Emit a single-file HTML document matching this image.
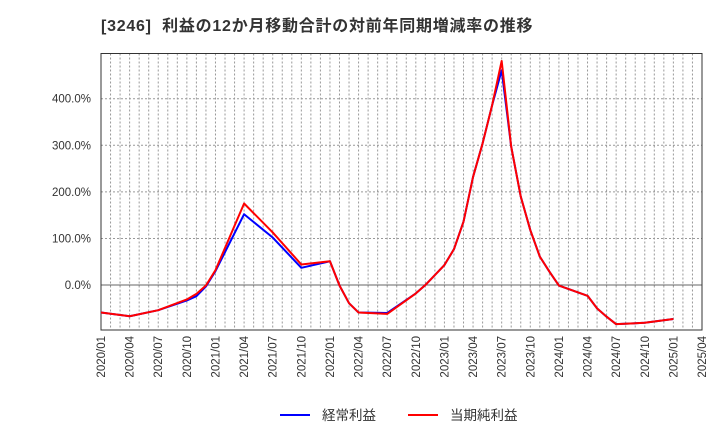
<!DOCTYPE html>
<html><head><meta charset="utf-8"><style>
body{margin:0;background:#fff;}
svg text{font-family:"Liberation Sans","Noto Sans CJK JP",sans-serif;fill:#333;}
</style></head><body>
<svg id="chart" width="720" height="440" xmlns="http://www.w3.org/2000/svg">
<text x="101" y="31" font-size="16" font-weight="bold" letter-spacing="0.75" xml:space="preserve">[3246]  利益の12か月移動合計の対前年同期増減率の推移</text>
<g id="grid"></g><g id="axes"></g><g id="series"></g>
<g>
<line x1="280" y1="415" x2="310" y2="415" stroke="#0000ff" stroke-width="2"/>
<text x="322" y="420" font-size="13.5">経常利益</text>
<line x1="408" y1="415" x2="438" y2="415" stroke="#ff0000" stroke-width="2"/>
<text x="450" y="420" font-size="13.5">当期純利益</text>
</g>
</svg>
<script>
// month index from 2020/01
const months = [0,3,6,9,10,11,12,15,18,21,24,25,26,27,30,33,34,36,37,38,39,40,41,42,43,44,45,46,47,48,51,52,53,54,57,60];
const keijo =  [-59,-67,-54,-33,-24,-3,30,152,102,37,51,-1,-39,-59,-60,-18,0,43,77,136,232,304,386,461,297,190,118,61,29,-1,-23,-50,-68,-84,-81,-73];
const junri =  [-59,-67,-54,-31,-19,-1,32,175,113,44,51,-1,-39,-59,-62,-18,0,43,77,136,232,304,386,481,297,190,118,61,29,-1,-23,-50,-68,-84,-81,-73];
const yTicks = [0,100,200,300,400];
const xTickLabels = ["2020/01","2020/04","2020/07","2020/10","2021/01","2021/04","2021/07","2021/10","2022/01","2022/04","2022/07","2022/10","2023/01","2023/04","2023/07","2023/10","2024/01","2024/04","2024/07","2024/10","2025/01","2025/04"];

const L=101,R=702,T=53.5,B=330, MMAX=63, YMIN=-96.5, YMAX=497;
const x=m=>L+(R-L)*m/MMAX;
const y=v=>B-(B-T)*(v-YMIN)/(YMAX-YMIN);
const NS="http://www.w3.org/2000/svg";
function mk(tag,attrs,parent){const e=document.createElementNS(NS,tag);for(const k in attrs)e.setAttribute(k,attrs[k]);parent.appendChild(e);return e;}
const grid=document.getElementById('grid'),axes=document.getElementById('axes'),ser=document.getElementById('series');
for(let m=1;m<MMAX;m++){
  const g=mk('line',{x1:x(m),x2:x(m),y1:T,y2:B,stroke:'#999','stroke-dasharray':'2,2','stroke-width':1},grid);
  
  
}
yTicks.forEach(v=>{
  const g=mk('line',{x1:L,x2:R,y1:y(v),y2:y(v),stroke:v===0?'#666':'#999','stroke-dasharray':v===0?'':'2,2','stroke-width':1},grid);
  
  
  const t=mk('text',{x:91,y:y(v)+4,'text-anchor':'end','font-size':11.5},axes);
  t.textContent=v.toFixed(1)+'%';
  
  
});
xTickLabels.forEach((lab,i)=>{
  const m=i*3;
  const t=mk('text',{x:0,y:0,'text-anchor':'end','font-size':11.5,transform:`translate(${x(m)+4},336) rotate(-90)`},axes);
  t.textContent=lab;
  
  
});
const frame=mk('rect',{x:L,y:T,width:R-L,height:B-T,fill:'none',stroke:'#333','stroke-width':1},axes);


function line(vals,color,name){
  const p=mk('polyline',{points:months.map((m,i)=>x(m)+','+y(vals[i])).join(' '),fill:'none',stroke:color,'stroke-width':2,'stroke-linejoin':'round'},ser);
  
  
}
line(keijo,'#0000ff','series-keijo-line');
line(junri,'#ff0000','series-junri-line');
</script>
</body></html>
